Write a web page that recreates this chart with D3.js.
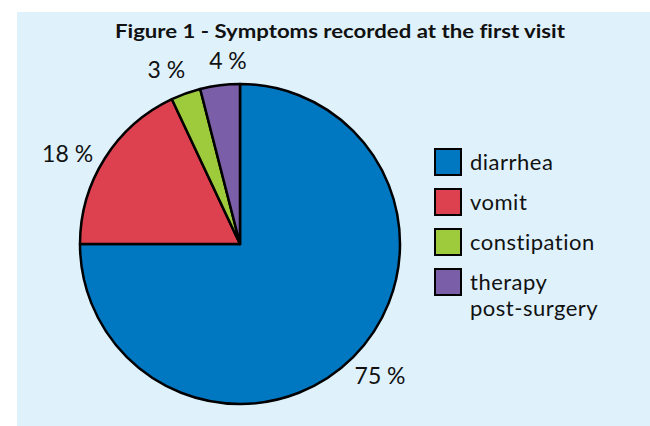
<!DOCTYPE html>
<html><head><meta charset="utf-8">
<script src="https://cdn.jsdelivr.net/npm/d3@7"></script>
<style>body{margin:0;background:#fff}svg{display:block}text{font-family:Lato,"Open Sans",sans-serif;fill:#111;font-variant-ligatures:none;font-feature-settings:"liga" 0,"clig" 0}</style>
</head><body>
<svg id="c" width="650" height="426"></svg>
<script>
const categories = ["diarrhea", "vomit", "constipation", "therapy post-surgery"];
const legendLines = [["diarrhea"], ["vomit"], ["constipation"], ["therapy", "post-surgery"]];
const values = [75, 18, 3, 4];
const colors = ["#0077c1", "#dd4150", "#9ecb3c", "#7a5ea8"];
const title = "Figure 1 - Symptoms recorded at the first visit";

const svg = d3.select("#c");
svg.append("rect").attr("x", 17).attr("y", 12).attr("width", 633).attr("height", 414).attr("fill", "#dff2fc");

svg.append("text").attr("x", 340).attr("y", 38).attr("text-anchor", "middle")
  .attr("font-weight", "bold").attr("font-size", 19)
  .attr("textLength", 450).attr("lengthAdjust", "spacingAndGlyphs").text(title);

const cx = 240, cy = 244, r = 160;
const pie = d3.pie().sort(null).value(d => d)(values);
const arc = d3.arc().innerRadius(0).outerRadius(r);
const g = svg.append("g").attr("transform", `translate(${cx},${cy})`);
g.selectAll("path").data(pie).join("path")
  .attr("d", arc).attr("fill", (d, i) => colors[i])
  .attr("stroke", "#000").attr("stroke-width", 2.5).attr("stroke-linejoin", "round");

// Outside-end labels: box placed just outside the arc's mid point
const clamp = v => Math.max(0, Math.min(1, v));
const labels = g.selectAll("text.lbl").data(pie).join("text").attr("class", "lbl")
  .attr("font-size", 23).attr("text-anchor", "middle").attr("dominant-baseline", "central")
  .text(d => d.data + " %");
const boxes = [];
labels.each(function(d) {
  const a = (d.startAngle + d.endAngle) / 2;
  const ux = Math.sin(a), uy = -Math.cos(a);
  const w = this.getBBox().width / 2, h = 9;
  const fx = Math.sign(ux) * clamp(Math.abs(ux) / 0.3);
  const fy = Math.sign(uy) * clamp((Math.abs(uy) - 0.55) / 0.15);
  const gx = Math.abs(ux) > 0.8 ? 14 : 2;
  boxes.push({el: this, w, x: ux * (r + gx) + fx * w, y: uy * r + uy * Math.abs(uy) * 17 + fy * h});
});
for (let i = 1; i < boxes.length; i++) {
  const p = boxes[i - 1], q = boxes[i];
  if (Math.abs(p.y - q.y) < 18) {
    const need = p.w + q.w + 24, d = q.x - p.x;
    if (Math.abs(d) < need) q.x = p.x + need * (d >= 0 ? 1 : -1);
  }
}
boxes.forEach(b => d3.select(b.el).attr("x", b.x).attr("y", b.y));

const leg = svg.append("g");
const ly = d3.scaleBand().domain(categories).range([148, 308]).paddingInner(0);
categories.forEach((c, i) => {
  const y = ly(c);
  leg.append("rect").attr("x", 435).attr("y", y + 1).attr("width", 26).attr("height", 26)
    .attr("fill", colors[i]).attr("stroke", "#000").attr("stroke-width", 2);
  legendLines[i].forEach((t, j) => {
    leg.append("text").attr("x", 470).attr("y", y + 22 + j * 26).attr("font-size", 22)
      .attr("letter-spacing", 0.5).text(t);
  });
});
</script>
</body></html>
